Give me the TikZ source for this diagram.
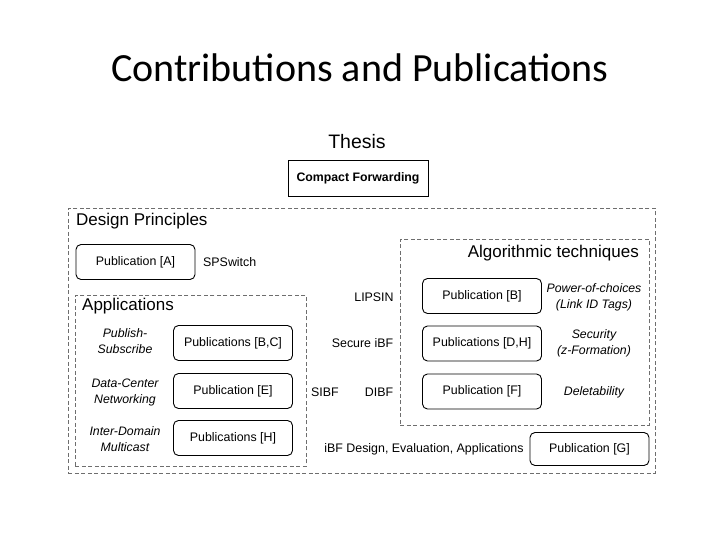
\documentclass[tikz,border=0pt]{standalone}
\usepackage{fontspec}
\setmainfont{Liberation Sans}
\newfontfamily\titlefont{Carlito}
\usepackage{xcolor}
\definecolor{framegray}{RGB}{110, 110, 110}
\usepackage{tikz}
\usetikzlibrary{positioning}

\begin{document}
\begin{tikzpicture}[x=1pt, y=-1pt,
  pubbox/.style={draw=black, rounded corners=5pt, line width=0.9pt, minimum width=119, minimum height=35, inner sep=0pt, font=\fontsize{12.4}{15}\selectfont},
  framebox/.style={draw=framegray, dash pattern=on 4pt off 2.5pt, line width=0.8pt, inner sep=0pt, anchor=north west},
  label/.style={inner sep=0pt, font=\fontsize{12.4}{15}\selectfont},
  areatitle/.style={inner sep=0pt, font=\fontsize{17}{20}\selectfont},
  topic/.style={inner sep=0pt, align=center, font=\fontsize{12.3}{16}\selectfont\itshape}
]
\useasboundingbox[fill=white] (0,0) rectangle (720,540);

\node[inner sep=0pt, font=\fontsize{40}{44}\titlefont] (title) at (360,68) {Contributions and Publications};

\node[inner sep=0pt, font=\fontsize{19.5}{22}\selectfont] (thesis) at (357,142) {Thesis};
\node[draw=black, line width=0.9pt, minimum width=140, minimum height=36, font=\fontsize{12.3}{15}\selectfont\bfseries] (cf) at (358,178) {Compact Forwarding};

% dashed areas
\node[framebox, minimum width=587, minimum height=265] (design) at (68,208) {};
\node[framebox, minimum width=231, minimum height=171] (apps) at (75,295) {};
\node[framebox, minimum width=249, minimum height=186] (algo) at (400,239) {};

\node[areatitle, anchor=west] (designlbl) at (76,221) {Design Principles};
\node[areatitle, anchor=west] (appslbl) at (82,306) {Applications};
\node[areatitle, anchor=east] (algolbl) at (639,253) {Algorithmic techniques};

\node[pubbox] (pubA) at (135.5,262) {Publication [A]};
\node[label, anchor=west] (spswitch) at (203,262) {SPSwitch};

% applications
\node[topic] (pubsub) at (125,341) {Publish-\\Subscribe};
\node[pubbox] (pubBC) at (233,343) {Publications [B,C]};
\node[topic] (dcn) at (125,392) {Data-Center\\Networking};
\node[pubbox] (pubE) at (233,391) {Publication [E]};
\node[topic] (idm) at (125,439) {Inter-Domain\\Multicast};
\node[pubbox] (pubH) at (233,438) {Publications [H]};

% middle column
\node[label] (lipsin) at (374,297) {LIPSIN};
\node[label] (secibf) at (362.5,343) {Secure iBF};
\node[label] (sibf) at (325,392) {SIBF};
\node[label] (dibf) at (379,392) {DIBF};

% algorithmic techniques
\node[pubbox] (pubB) at (482,296) {Publication [B]};
\node[topic] (power) at (594,297) {Power-of-choices\\(Link ID Tags)};
\node[pubbox] (pubDH) at (482,343.5) {Publications [D,H]};
\node[topic] (security) at (594,343.5) {Security\\(z-Formation)};
\node[pubbox] (pubF) at (482,391.5) {Publication [F]};
\node[topic] (delet) at (594,392) {Deletability};

\node[label] (ibf) at (424,449) {iBF Design, Evaluation, Applications};
\node[pubbox, minimum height=33] (pubG) at (589.5,449) {Publication [G]};
\end{tikzpicture}
\end{document}
